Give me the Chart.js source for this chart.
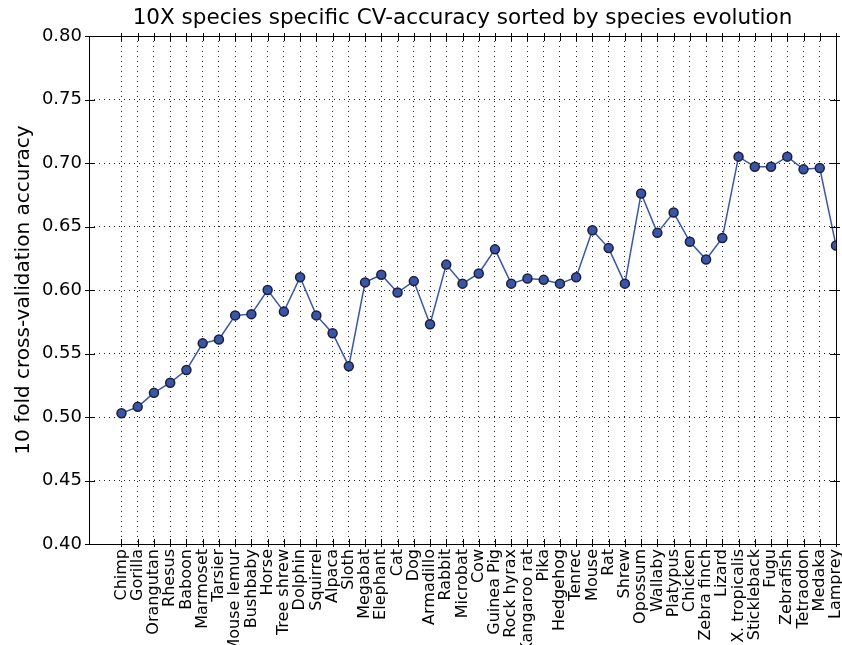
<!DOCTYPE html>
<html>
<head>
<meta charset="utf-8">
<script src="https://cdn.jsdelivr.net/npm/chart.js@4.4.0/dist/chart.umd.min.js"></script>
<style>
  html, body { margin: 0; padding: 0; background: #fff; }
  #chart { display: block; }
</style>
</head>
<body>
<canvas id="chart" width="842" height="645"></canvas>
<script>
// species in evolutionary order (x axis labels)
const species = [
  'Chimp', 'Gorilla', 'Orangutan', 'Rhesus', 'Baboon', 'Marmoset', 'Tarsier',
  'Mouse lemur', 'Bushbaby', 'Horse', 'Tree shrew', 'Dolphin', 'Squirrel',
  'Alpaca', 'Sloth', 'Megabat', 'Elephant', 'Cat', 'Dog', 'Armadillo', 'Rabbit',
  'Microbat', 'Cow', 'Guinea Pig', 'Rock hyrax', 'Kangaroo rat', 'Pika',
  'Hedgehog', 'Tenrec', 'Mouse', 'Rat', 'Shrew', 'Opossum', 'Wallaby',
  'Platypus', 'Chicken', 'Zebra finch', 'Lizard', 'X. tropicalis',
  'Stickleback', 'Fugu', 'Zebrafish', 'Tetraodon', 'Medaka', 'Lamprey'
];

// 10 fold CV accuracy per species
const accuracy = [
  0.503, 0.508, 0.519, 0.527, 0.537, 0.558, 0.561,
  0.580, 0.581, 0.600, 0.583, 0.610, 0.580,
  0.566, 0.540, 0.606, 0.612, 0.598, 0.607, 0.573, 0.620,
  0.605, 0.613, 0.632, 0.605, 0.609, 0.608,
  0.605, 0.610, 0.647, 0.633, 0.605, 0.676, 0.645,
  0.661, 0.638, 0.624, 0.641, 0.705,
  0.697, 0.697, 0.705, 0.695, 0.696, 0.635
];

const yMin = 0.40, yMax = 0.80, yStep = 0.05;

// matplotlib style frame with in/out tick marks on all four sides
const frameTicks = {
  id: 'frameTicks',
  afterDatasetsDraw(chart) {
    const { ctx, chartArea: a, scales: { x, y } } = chart;
    ctx.save();
    ctx.strokeStyle = '#000';
    ctx.lineWidth = 1;
    ctx.setLineDash([]);
    ctx.beginPath();
    x.ticks.forEach(t => {
      if (t.value < 0) return;
      const px = Math.round(x.getPixelForValue(t.value)) + 0.5;
      ctx.moveTo(px, a.bottom + 3); ctx.lineTo(px, a.bottom - 5);
      ctx.moveTo(px, a.top - 3); ctx.lineTo(px, a.top + 5);
    });
    y.ticks.forEach(t => {
      const py = Math.round(y.getPixelForValue(t.value)) + 0.5;
      ctx.moveTo(a.left - 4, py); ctx.lineTo(a.left + 6, py);
      ctx.moveTo(a.right + 4, py); ctx.lineTo(a.right - 6, py);
    });
    ctx.stroke();
    ctx.strokeRect(Math.round(a.left) + 0.5, Math.round(a.top) + 0.5,
      Math.round(a.right - a.left), Math.round(a.bottom - a.top));
    ctx.restore();
  }
};

const ctx = document.getElementById('chart').getContext('2d');
new Chart(ctx, {
  type: 'line',
  data: {
    datasets: [{
      data: accuracy.map((v, i) => ({ x: i, y: v })),
      borderColor: '#3b56a8',
      borderWidth: 1.5,
      pointRadius: 4.5,
      pointBorderWidth: 1.5,
      pointBackgroundColor: '#3a55a6',
      pointBorderColor: '#1b1f3a',
      tension: 0
    }]
  },
  options: {
    responsive: false,
    animation: false,
    layout: { padding: { left: 0, right: 4, top: 0, bottom: 0 } },
    plugins: {
      legend: { display: false },
      tooltip: { enabled: false },
      title: {
        display: true,
        fullSize: false,
        text: '10X species specific CV-accuracy sorted by species evolution',
        color: '#000',
        font: { family: 'DejaVu Sans', size: 21.5, weight: 'normal' },
        padding: { top: 6, bottom: 4.2 }
      }
    },
    scales: {
      x: {
        type: 'linear',
        min: -2,
        max: species.length - 1,
        afterFit(scale) {
          scale.height = 101;
          scale.paddingLeft = 0;
          scale.paddingRight = 0;
        },
        ticks: {
          stepSize: 1,
          autoSkip: false,
          maxTicksLimit: 100,
          minRotation: 90,
          maxRotation: 90,
          padding: 5,
          color: '#000',
          font: { family: 'DejaVu Sans', size: 16 },
          callback: v => (v >= 0 && species[v] !== undefined) ? species[v] : ''
        },
        grid: {
          drawTicks: false,
          lineWidth: 1,
          color: c => (c.tick && c.tick.value < 0) ? 'rgba(0,0,0,0)' : '#222'
        },
        border: { display: false, dash: [1, 4] }
      },
      y: {
        min: yMin,
        max: yMax,
        afterFit(scale) { scale.width = 89; },
        ticks: {
          stepSize: yStep,
          padding: 7,
          color: '#000',
          font: { family: 'DejaVu Sans', size: 18 },
          callback: v => Number(v).toFixed(2)
        },
        grid: { drawTicks: false, lineWidth: 1, color: '#222' },
        border: { display: false, dash: [1, 4] },
        title: {
          display: true,
          text: '10 fold cross-validation accuracy',
          color: '#000',
          font: { family: 'DejaVu Sans', size: 20 },
          padding: { top: 12, bottom: 0 }
        }
      }
    }
  },
  plugins: [frameTicks]
});
</script>
</body>
</html>
